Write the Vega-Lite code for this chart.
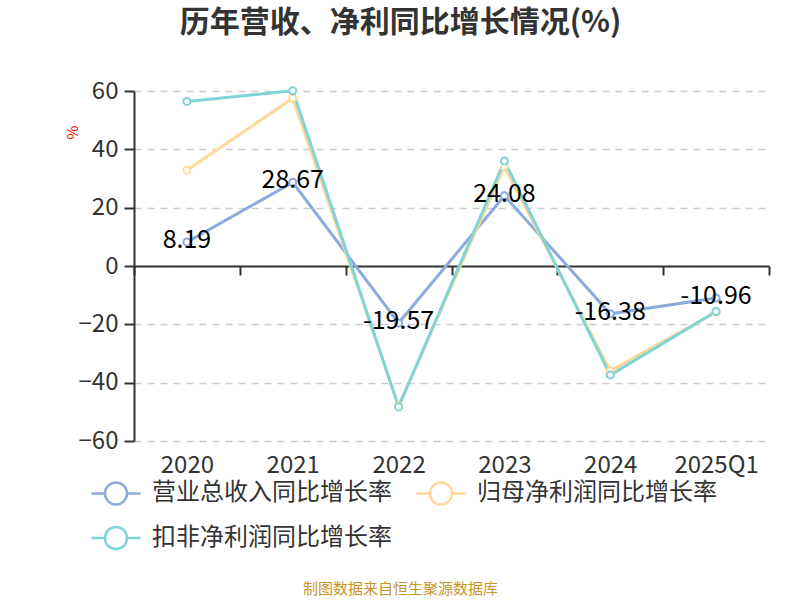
{
  "$schema": "https://vega.github.io/schema/vega-lite/v6.json",
  "autosize": "none",
  "width": 635,
  "height": 350,
  "padding": {"left": 134, "top": 91, "right": 31, "bottom": 159},
  "background": "white",
  "config": {
    "font": "Noto Sans CJK SC",
    "view": {"stroke": null}
  },
  "title": {
    "text": "历年营收、净利同比增长情况(%)",
    "fontSize": 30,
    "fontWeight": "bold",
    "color": "#333333",
    "anchor": "middle",
    "dx": -51,
    "offset": 41
  },
  "data": {
    "values": [
      {"period": "2020", "series": "营业总收入同比增长率", "value": 8.19, "label": "8.19"},
      {"period": "2021", "series": "营业总收入同比增长率", "value": 28.67, "label": "28.67"},
      {"period": "2022", "series": "营业总收入同比增长率", "value": -19.57, "label": "-19.57"},
      {"period": "2023", "series": "营业总收入同比增长率", "value": 24.08, "label": "24.08"},
      {"period": "2024", "series": "营业总收入同比增长率", "value": -16.38, "label": "-16.38"},
      {"period": "2025Q1", "series": "营业总收入同比增长率", "value": -10.96, "label": "-10.96"},
      {"period": "2020", "series": "归母净利润同比增长率", "value": 32.8, "label": ""},
      {"period": "2021", "series": "归母净利润同比增长率", "value": 57.5, "label": ""},
      {"period": "2022", "series": "归母净利润同比增长率", "value": -47.9, "label": ""},
      {"period": "2023", "series": "归母净利润同比增长率", "value": 34.0, "label": ""},
      {"period": "2024", "series": "归母净利润同比增长率", "value": -35.9, "label": ""},
      {"period": "2025Q1", "series": "归母净利润同比增长率", "value": -15.8, "label": ""},
      {"period": "2020", "series": "扣非净利润同比增长率", "value": 56.4, "label": ""},
      {"period": "2021", "series": "扣非净利润同比增长率", "value": 60.1, "label": ""},
      {"period": "2022", "series": "扣非净利润同比增长率", "value": -48.3, "label": ""},
      {"period": "2023", "series": "扣非净利润同比增长率", "value": 36.0, "label": ""},
      {"period": "2024", "series": "扣非净利润同比增长率", "value": -37.4, "label": ""},
      {"period": "2025Q1", "series": "扣非净利润同比增长率", "value": -15.6, "label": ""}
    ]
  },
  "encoding": {
    "x": {
      "field": "period",
      "type": "ordinal",
      "sort": null,
      "scale": {"paddingInner": 0, "paddingOuter": 0},
      "axis": {
        "title": "制图数据来自恒生聚源数据库",
        "titleColor": "#c9962c",
        "titleFontSize": 15,
        "titleFontWeight": "normal",
        "titleX": 266,
        "titleY": 322,
        "titleAlign": "center",
        "titleBaseline": "middle",
        "titleAnchor": null,
        "offset": -175,
        "domain": true,
        "domainColor": "#333333",
        "domainWidth": 2,
        "ticks": true,
        "tickBand": "extent",
        "tickColor": "#333333",
        "tickWidth": 2,
        "tickSize": 9,
        "labelAngle": 0,
        "labelFontSize": 24,
        "labelColor": "#333333",
        "labelBaseline": "middle",
        "labelPadding": 190,
        "grid": false
      }
    },
    "y": {
      "field": "value",
      "type": "quantitative",
      "scale": {"domain": [-60, 60], "nice": false, "zero": false},
      "axis": {
        "values": [-60, -40, -20, 0, 20, 40, 60],
        "title": "%",
        "titleColor": "#ff0000",
        "titleFontSize": 15,
        "titleFontWeight": "normal",
        "titleX": -62,
        "titleY": 41,
        "titleAlign": "center",
        "titleBaseline": "middle",
        "titleAngle": -90,
        "domain": true,
        "domainColor": "#333333",
        "domainWidth": 2,
        "ticks": true,
        "tickColor": "#333333",
        "tickWidth": 2,
        "tickSize": 10,
        "labelFontSize": 24,
        "labelColor": "#333333",
        "labelPadding": 6,
        "grid": true,
        "gridColor": "#cccccc",
        "gridWidth": 1.5,
        "gridDash": [7, 6]
      }
    }
  },
  "layer": [
    {
      "mark": {"type": "line", "strokeWidth": 3},
      "encoding": {
        "stroke": {
          "field": "series",
          "type": "nominal",
          "scale": {
            "domain": ["营业总收入同比增长率", "归母净利润同比增长率", "扣非净利润同比增长率"],
            "range": ["#8caadc", "#ffd898", "#7fd4d6"]
          },
          "legend": {
            "title": null,
            "orient": "none",
            "legendX": -44,
            "legendY": 376,
            "direction": "horizontal",
            "columns": 2,
            "symbolType": "M-1,0L-0.45,0M0.45,0L1,0M0.45,0A0.45,0.45,0,1,1,-0.45,0A0.45,0.45,0,1,1,0.45,0",
            "symbolSize": 2401,
            "symbolStrokeWidth": 2.5,
            "symbolFillColor": "white",
            "labelFontSize": 24,
            "labelLimit": 0,
            "labelColor": "#333333",
            "labelOffset": 10,
            "columnPadding": 19,
            "rowPadding": 2,
            "padding": 0
          }
        }
      }
    },
    {
      "mark": {"type": "point", "filled": false, "fill": "white", "fillOpacity": 1, "opacity": 1, "strokeWidth": 2, "size": 50},
      "encoding": {
        "stroke": {"field": "series", "type": "nominal"}
      }
    },
    {
      "transform": [{"filter": "datum.label != ''"}],
      "mark": {"type": "text", "fontSize": 25, "color": "#000000", "baseline": "middle", "align": "center", "dy": -2},
      "encoding": {
        "text": {"field": "label"}
      }
    }
  ]
}
